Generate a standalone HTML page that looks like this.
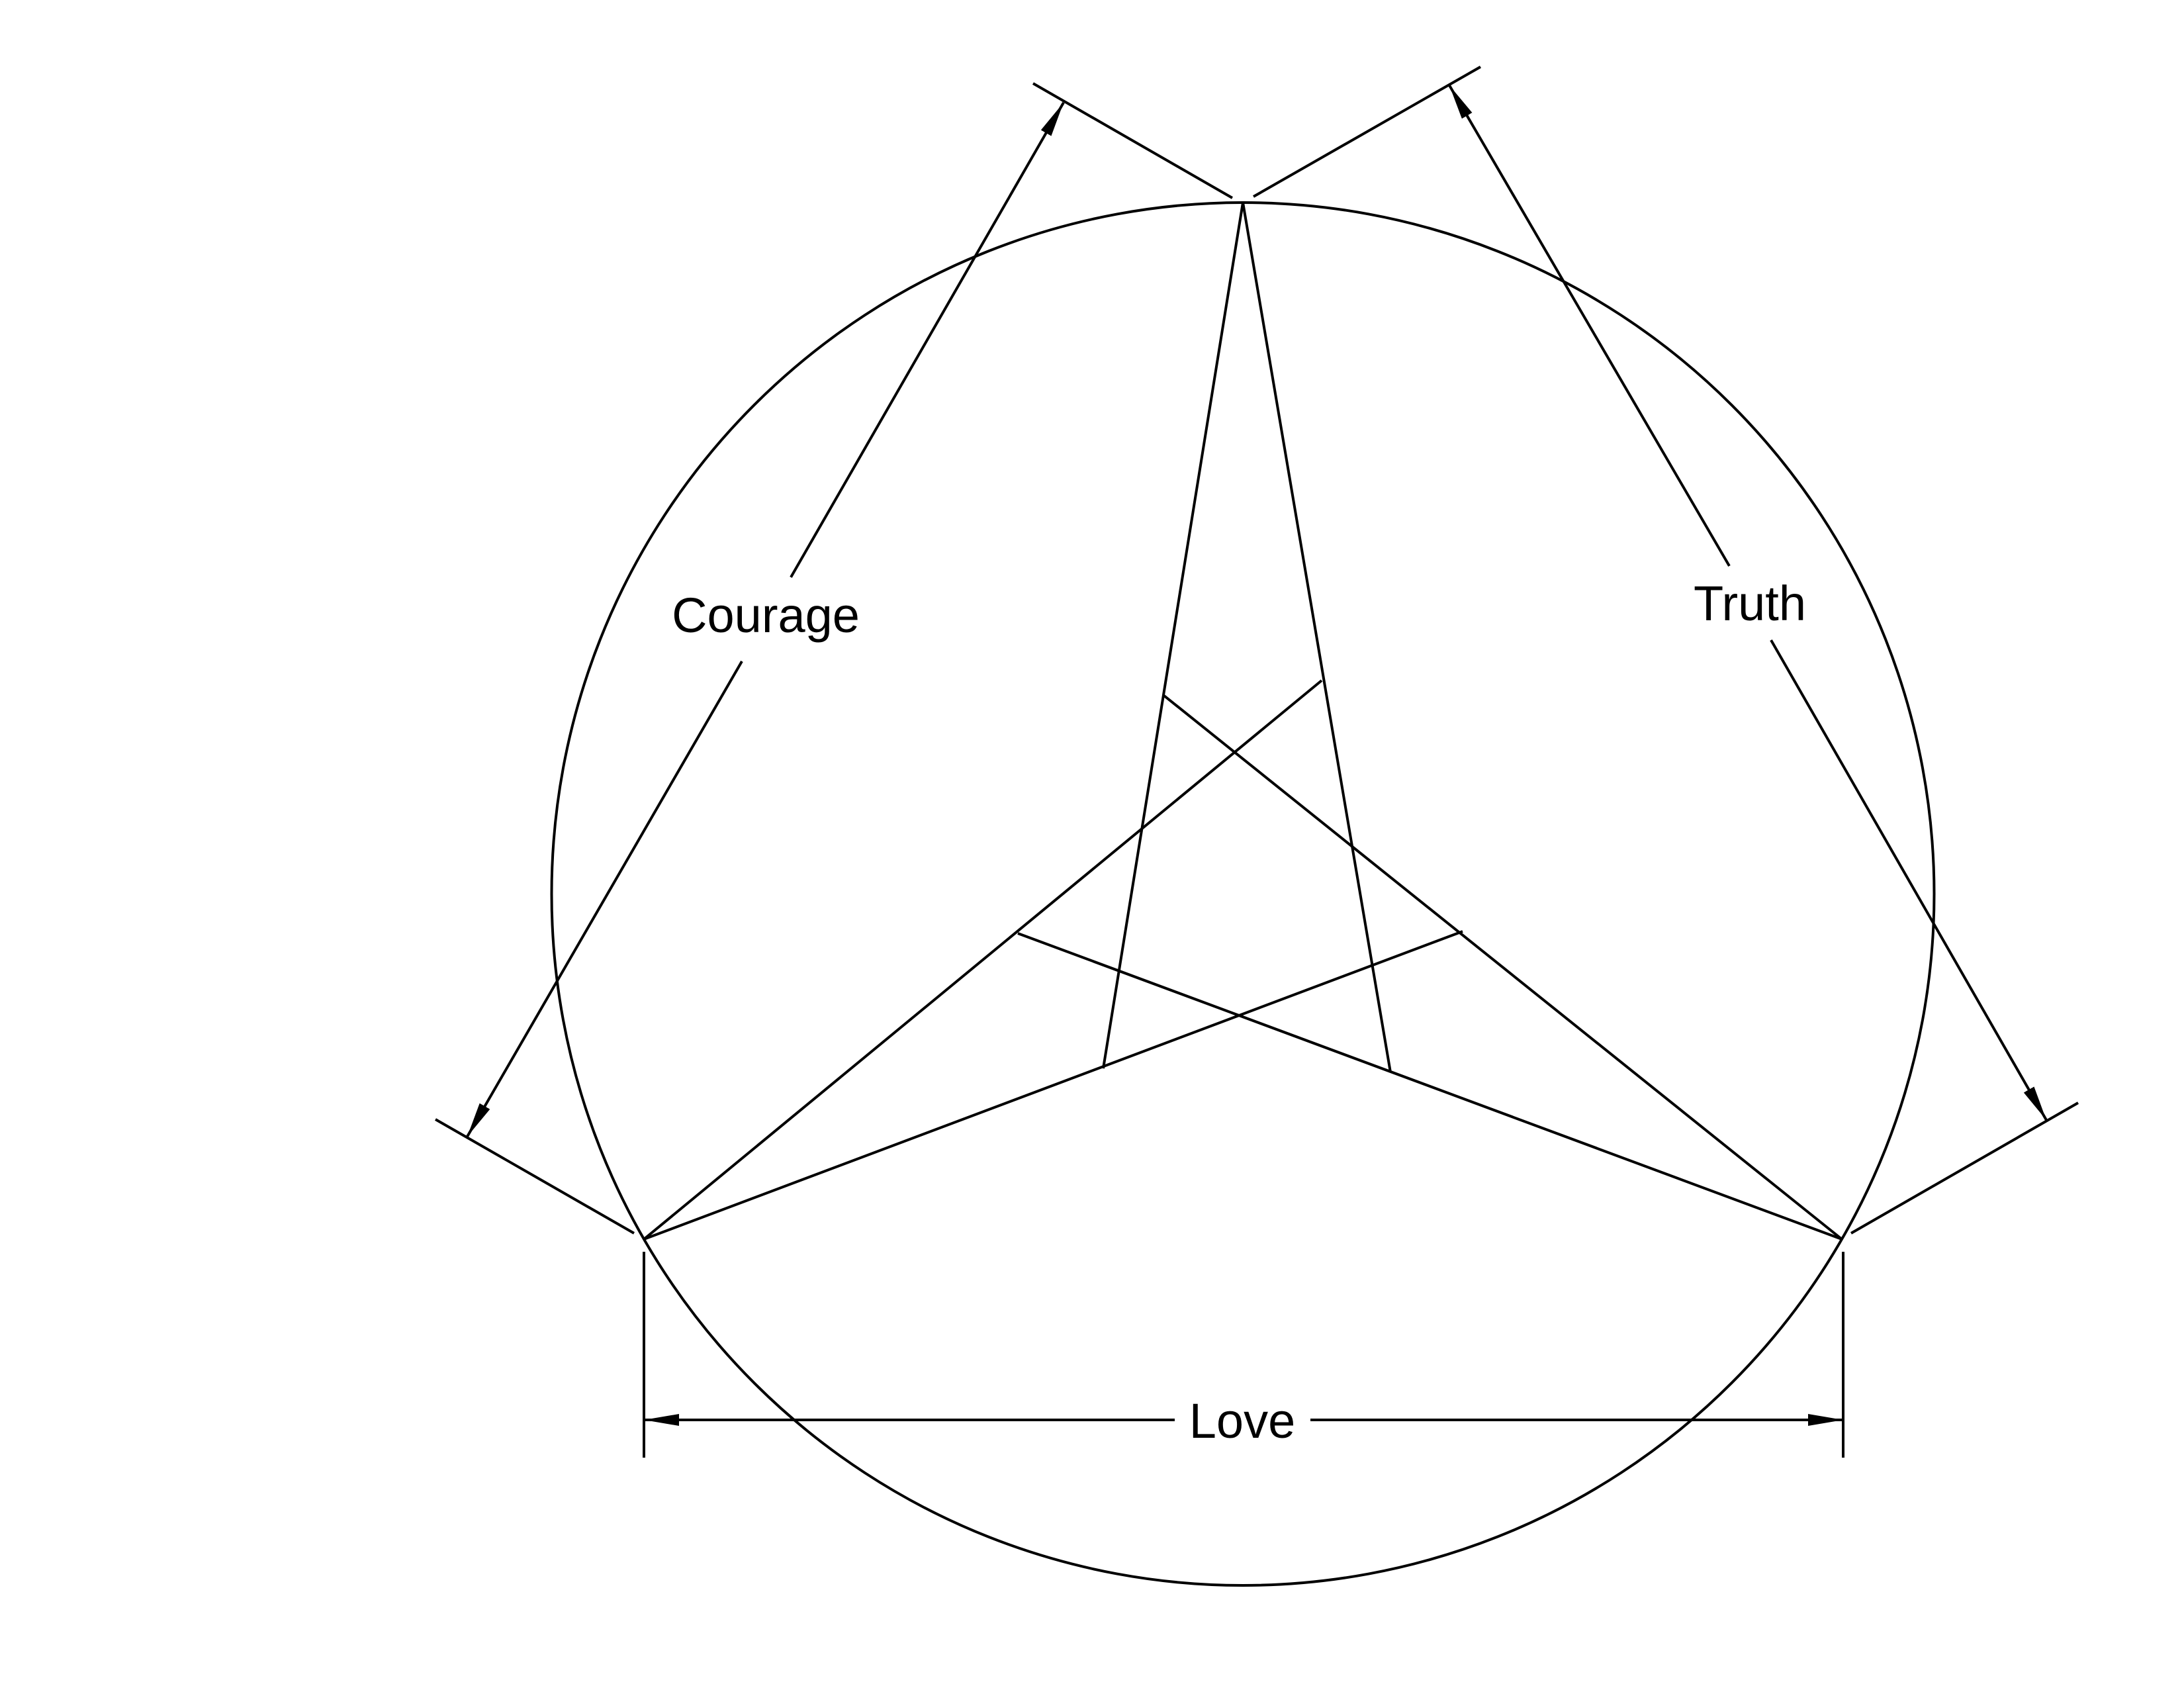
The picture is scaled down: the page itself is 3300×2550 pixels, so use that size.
<!DOCTYPE html>
<html><head><meta charset="utf-8"><style>
html,body{margin:0;padding:0;background:#fff;}
svg{display:block;}
text{font-family:"Liberation Sans",sans-serif;fill:#000;}
</style></head><body>
<svg width="3300" height="2550" viewBox="0 0 3300 2550" xmlns="http://www.w3.org/2000/svg">
<defs>
<marker id="ar" viewBox="0 -9 53 18" markerWidth="53" markerHeight="18" refX="53" refY="0" orient="auto" markerUnits="userSpaceOnUse">
<path d="M0,-9 L53,0 L0,9 z" fill="#000"/>
</marker>
</defs>
<g stroke="#000" stroke-width="4" fill="none" stroke-linecap="butt">
<circle cx="1878" cy="1350.5" r="1044.5"/>
<!-- inner lines -->
<line x1="1878" y1="306" x2="1667" y2="1614"/>
<line x1="1878" y1="306" x2="2101" y2="1620"/>
<line x1="973" y1="1872" x2="1997" y2="1028"/>
<line x1="973" y1="1872" x2="2210" y2="1407"/>
<line x1="2783" y1="1872" x2="1759" y2="1051"/>
<line x1="2783" y1="1872" x2="1538" y2="1410"/>
<!-- extension lines -->
<line x1="1561" y1="126" x2="1862" y2="299"/>
<line x1="658" y1="1691" x2="958" y2="1863"/>
<line x1="2237" y1="101" x2="1894" y2="297"/>
<line x1="2797" y1="1863" x2="3140" y2="1666"/>
<line x1="973" y1="1891" x2="973" y2="2202"/>
<line x1="2785" y1="1891" x2="2785" y2="2202"/>
<!-- dimension lines -->
<line x1="1195" y1="872" x2="1607" y2="155" marker-end="url(#ar)"/>
<line x1="1121" y1="999" x2="706" y2="1717" marker-end="url(#ar)"/>
<line x1="2613" y1="855" x2="2190" y2="129" marker-end="url(#ar)"/>
<line x1="2676" y1="967" x2="3092" y2="1692" marker-end="url(#ar)"/>
<line x1="1775" y1="2145" x2="973" y2="2145" marker-end="url(#ar)"/>
<line x1="1980" y1="2145" x2="2785" y2="2145" marker-end="url(#ar)"/>
</g>
<text x="1877" y="2172" font-size="74" text-anchor="middle">Love</text>
<text x="1157" y="955" font-size="74" text-anchor="middle">Courage</text>
<text x="2644" y="937" font-size="74" text-anchor="middle">Truth</text>
</svg>
</body></html>
